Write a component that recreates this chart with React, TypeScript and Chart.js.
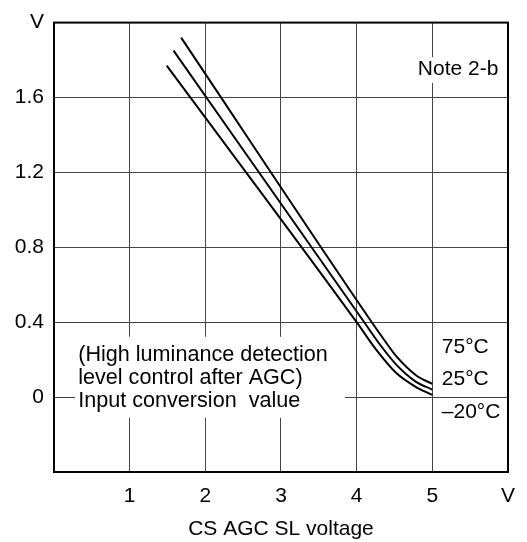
import React, { useEffect, useRef } from "react";
import { Chart, registerables } from "chart.js";

Chart.register(...registerables);

// ---- data ----
const seriesLabels = ["75°C", "25°C", "–20°C"];
const x75 = [1.68, 4.2, 4.4, 4.52, 4.78, 5.0];
const y75 = [1.92, 0.4, 0.285, 0.22, 0.118, 0.07];
const x25 = [1.58, 4.1, 4.3, 4.52, 4.78, 5.0];
const y25 = [1.85, 0.4, 0.285, 0.175, 0.083, 0.04];
const xm20 = [1.49, 4.0, 4.255, 4.52, 4.78, 5.0];
const ym20 = [1.77, 0.4, 0.255, 0.13, 0.055, 0.012];

const xTickValues = [0, 1, 2, 3, 4, 5, 6];
const xTickLabels = ["", "1", "2", "3", "4", "5", "V"];
const yTickValues = [-0.4, 0, 0.4, 0.8, 1.2, 1.6, 2.0];
const yTickLabels = ["", "0", "0.4", "0.8", "1.2", "1.6", "V"];

const xTitle = "CS AGC SL voltage";
const noteText = "Note 2-b";
const noteAnchor = [5.34, 1.752];
const boxLines = [
  "(High luminance detection",
  "level control after AGC)",
  "Input conversion  value",
];
const boxAnchor = [0.32, 0.226];
const tempAnchorX = 5.125;
const tempAnchorY = [0.267, 0.093, -0.078];

const FONT = '"Liberation Sans", Arial, sans-serif';
const FS = 21;
const BOX_FS = 21.6;

function pts(xs: number[], ys: number[]) {
  return xs.map((x, i) => ({ x, y: ys[i] }));
}

function labelFor(values: number[], labels: string[], v: number) {
  for (let i = 0; i < values.length; i++) {
    if (Math.abs(values[i] - v) < 1e-6) return labels[i];
  }
  return "";
}

const overlayPlugin = {
  id: "overlay",
  beforeDatasetsDraw(chart: any) {
    const ctx = chart.ctx as CanvasRenderingContext2D;
    const xs = chart.scales.x;
    const ys = chart.scales.y;
    ctx.save();
    ctx.font = `${FS}px ${FONT}`;
    ctx.textBaseline = "middle";
    ctx.fillStyle = "#000";

    // Note box
    const nx = xs.getPixelForValue(noteAnchor[0]);
    const ny = ys.getPixelForValue(noteAnchor[1]);
    const nw = ctx.measureText(noteText).width;
    ctx.fillStyle = "#fff";
    ctx.fillRect(nx - nw / 2 - 4, ny - 12, nw + 8, 26);
    ctx.fillStyle = "#000";
    ctx.textAlign = "center";
    ctx.fillText(noteText, nx, ny);

    // multi-line box
    ctx.font = `${BOX_FS}px ${FONT}`;
    const bx = xs.getPixelForValue(boxAnchor[0]);
    const by = ys.getPixelForValue(boxAnchor[1]);
    const lh = 23;
    let maxW = 0;
    boxLines.forEach((l) => (maxW = Math.max(maxW, ctx.measureText(l).width)));
    ctx.fillStyle = "#fff";
    ctx.fillRect(bx - 3, by - 18, maxW + 20, lh * (boxLines.length - 1) + 35);
    ctx.fillStyle = "#000";
    ctx.textAlign = "left";
    boxLines.forEach((l, i) => ctx.fillText(l, bx, by + i * lh));

    // temperature labels
    ctx.font = `${FS}px ${FONT}`;
    const tx = xs.getPixelForValue(tempAnchorX);
    seriesLabels.forEach((l, i) => {
      ctx.fillText(l, tx, ys.getPixelForValue(tempAnchorY[i]));
    });
    ctx.restore();
  },
  afterDatasetsDraw(chart: any) {
    const ctx = chart.ctx as CanvasRenderingContext2D;
    const a = chart.chartArea;
    ctx.save();
    ctx.strokeStyle = "#000";
    ctx.lineWidth = 2;
    ctx.strokeRect(a.left, a.top, a.right - a.left, a.bottom - a.top);
    ctx.restore();
  },
};

export default function App() {
  const ref = useRef<HTMLCanvasElement | null>(null);
  useEffect(() => {
    if (!ref.current) return;
    const ds = (label: string, data: any[]) => ({
      label,
      data,
      borderColor: "#000",
      borderWidth: 2,
      pointRadius: 0,
      fill: false,
      cubicInterpolationMode: "monotone" as const,
    });
    const chart = new Chart(ref.current, {
      type: "line",
      data: {
        datasets: [
          ds(seriesLabels[0], pts(x75, y75)),
          ds(seriesLabels[1], pts(x25, y25)),
          ds(seriesLabels[2], pts(xm20, ym20)),
        ],
      },
      options: {
        animation: false,
        responsive: true,
        maintainAspectRatio: false,
        layout: { padding: { top: 18, right: 19, left: 0, bottom: 0 } },
        plugins: {
          legend: { display: false },
          tooltip: { enabled: false },
        },
        scales: {
          x: {
            type: "linear",
            min: 0,
            max: 6,
            border: { display: false },
            grid: { color: "#444", lineWidth: 1, drawTicks: false },
            afterFit: (s: any) => {
              s.height = 70;
            },
            afterBuildTicks: (s: any) => {
              s.ticks = xTickValues.map((v) => ({ value: v }));
            },
            ticks: {
              autoSkip: false,
              maxRotation: 0,
              padding: 12,
              color: "#000",
              font: { family: FONT, size: FS },
              callback: (v: any) => labelFor(xTickValues, xTickLabels, Number(v)),
            },
            title: {
              display: true,
              text: xTitle,
              color: "#000",
              font: { family: FONT, size: FS },
              padding: { top: 0, bottom: 0 },
            },
          },
          y: {
            type: "linear",
            min: -0.4,
            max: 2.0,
            border: { display: false },
            grid: { color: "#444", lineWidth: 1, drawTicks: false },
            afterFit: (s: any) => {
              s.width = 54;
            },
            afterBuildTicks: (s: any) => {
              s.ticks = yTickValues.map((v) => ({ value: v }));
            },
            ticks: {
              autoSkip: false,
              padding: 10,
              color: "#000",
              font: { family: FONT, size: FS },
              callback: (v: any) => labelFor(yTickValues, yTickLabels, Number(v)),
            },
          },
        },
      },
      plugins: [overlayPlugin],
    });
    return () => chart.destroy();
  }, []);
  return (
    <div
      style={{
        position: "fixed",
        left: 0,
        top: 0,
        width: 527,
        height: 542,
        background: "#fff",
      }}
    >
      <canvas ref={ref} />
    </div>
  );
}
